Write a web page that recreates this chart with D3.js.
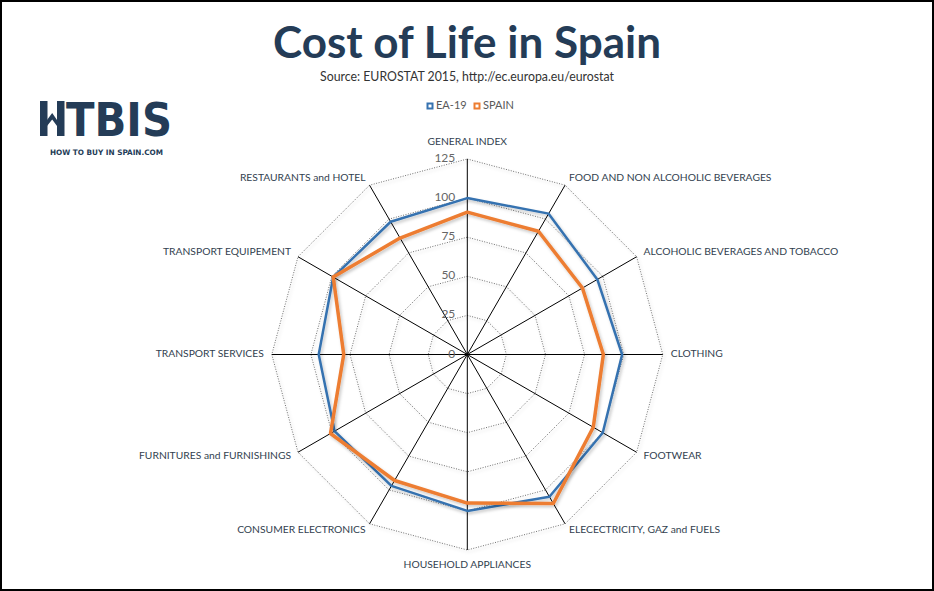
<!DOCTYPE html>
<html>
<head>
<meta charset="utf-8">
<script src="https://cdn.jsdelivr.net/npm/d3@7"></script>
<style>
  body { margin: 0; background: #fff; }
  svg { display: block; }
</style>
</head>
<body>
<svg id="chart" width="934" height="591"></svg>
<script>
// data
const categories = [
  "GENERAL INDEX", "FOOD AND NON ALCOHOLIC BEVERAGES", "ALCOHOLIC BEVERAGES AND TOBACCO",
  "CLOTHING", "FOOTWEAR", "ELECECTRICITY, GAZ and FUELS", "HOUSEHOLD APPLIANCES",
  "CONSUMER ELECTRONICS", "FURNITURES and FURNISHINGS", "TRANSPORT SERVICES",
  "TRANSPORT EQUIPEMENT", "RESTAURANTS and HOTEL"
]
const ea19 = [100, 104, 96, 99, 100, 105, 100, 97, 98, 95, 99, 98]
const spain = [91, 91, 85, 87, 93, 110, 95, 93, 101, 79, 99, 86]
const ticks = [0, 25, 50, 75, 100, 125]
const seriesNames = ["EA-19", "SPAIN"]
const seriesColors = ["#3672b0", "#ed7d31"]

const navy = "#243c57"
const font = "Lato, 'Open Sans', sans-serif"
const cx = 467.3, cy = 354.5, R = 195.5

const svg = d3.select("#chart").style("font-family", font)

svg.append("rect")
  .attr("x", 1).attr("y", 1).attr("width", 932).attr("height", 589)
  .attr("fill", "#fff").attr("stroke", "#000").attr("stroke-width", 2)

const defs = svg.append("defs")
const shadow = defs.append("filter").attr("id", "shadow")
  .attr("x", "-10%").attr("y", "-10%").attr("width", "120%").attr("height", "120%")
shadow.append("feDropShadow")
  .attr("dx", 1.5).attr("dy", 2).attr("stdDeviation", 1.5)
  .attr("flood-color", "#000").attr("flood-opacity", 0.22)

const r = d3.scaleLinear().domain([0, 125]).range([0, R])
const angle = d3.scaleLinear().domain([0, categories.length]).range([0, 2 * Math.PI])

function pt(i, v) {
  const a = angle(i)
  return [cx + r(v) * Math.sin(a), cy - r(v) * Math.cos(a)]
}

// title block
svg.append("text")
  .attr("x", 467).attr("y", 58)
  .attr("text-anchor", "middle")
  .attr("font-size", 43).attr("font-weight", "bold")
  .attr("fill", navy)
  .attr("textLength", 388).attr("lengthAdjust", "spacingAndGlyphs")
  .text("Cost of Life in Spain")

svg.append("text")
  .attr("x", 467).attr("y", 81)
  .attr("text-anchor", "middle")
  .attr("font-size", 12.5).attr("fill", "#333")
  .attr("textLength", 294).attr("lengthAdjust", "spacingAndGlyphs")
  .text("Source: EUROSTAT  2015, http://ec.europa.eu/eurostat")

// logo: the H is drawn with a little house roof, rest is text
const logo = svg.append("g").attr("fill", navy)
logo.append("rect").attr("x", 40).attr("y", 101).attr("width", 7.5).attr("height", 35)
logo.append("rect").attr("x", 57).attr("y", 101).attr("width", 7.5).attr("height", 35)
logo.append("path")
  .attr("d", "M47,120 L52.2,113 L57,120 L57,126 L52.2,119.5 L47,126 Z")
logo.append("text")
  .attr("x", 66).attr("y", 136)
  .style("font-family", "'DejaVu Sans Condensed', 'DejaVu Sans', sans-serif")
  .attr("font-weight", "bold")
  .attr("font-size", 47)
  .attr("textLength", 106).attr("lengthAdjust", "spacingAndGlyphs")
  .text("TBIS")
logo.append("text")
  .attr("x", 50).attr("y", 154.5)
  .style("font-family", "'DejaVu Sans Condensed', 'DejaVu Sans', sans-serif")
  .attr("font-weight", "bold")
  .attr("font-size", 7.5)
  .attr("textLength", 113).attr("lengthAdjust", "spacingAndGlyphs")
  .text("HOW TO BUY IN SPAIN.COM")

// legend
const legend = svg.append("g")
const legX = [427, 474]
seriesNames.forEach((n, k) => {
  legend.append("rect")
    .attr("x", legX[k] + 0.5).attr("y", 103.5).attr("width", 5).attr("height", 5)
    .attr("fill", "#fff").attr("stroke", seriesColors[k]).attr("stroke-width", 2)
  legend.append("text")
    .attr("x", legX[k] + 9).attr("y", 106)
    .attr("dominant-baseline", "middle")
    .attr("font-size", 11).attr("fill", "#595959")
    .text(n)
})

// grid rings
const idx = d3.range(categories.length)
const ringLine = d3.line()
svg.append("g")
  .selectAll("path")
  .data(ticks.filter(t => t > 0))
  .join("path")
  .attr("d", t => ringLine(idx.map(i => pt(i, t))) + "Z")
  .attr("fill", "none")
  .attr("stroke", "#6f6f6f")
  .attr("stroke-width", 1)
  .attr("stroke-dasharray", "1,1.5")
  .attr("filter", "url(#shadow)")

// spokes
svg.append("g")
  .selectAll("line")
  .data(idx)
  .join("line")
  .attr("x1", cx).attr("y1", cy)
  .attr("x2", i => pt(i, 125)[0])
  .attr("y2", i => pt(i, 125)[1])
  .attr("stroke", "#000").attr("stroke-width", 1)

// tick labels
svg.append("g")
  .selectAll("text")
  .data(ticks)
  .join("text")
  .attr("x", cx - 12)
  .attr("y", t => cy - r(t))
  .attr("text-anchor", "end")
  .attr("dominant-baseline", "middle")
  .attr("font-size", 12).attr("fill", "#666")
  .text(d => d)

// series
const seriesLine = d3.line()
;[ea19, spain].forEach((vals, k) => {
  svg.append("path")
    .attr("d", seriesLine(vals.map((v, i) => pt(i, v))) + "Z")
    .attr("fill", "none")
    .attr("stroke", seriesColors[k])
    .attr("stroke-width", k === 0 ? 2.5 : 3.5)
    .attr("stroke-linejoin", "round")
    .attr("filter", "url(#shadow)")
})

// category labels
svg.append("g")
  .selectAll("text")
  .data(categories)
  .join("text")
  .each(function(name, i) {
    const [x, y] = pt(i, 125 * (R + 8) / R)
    const s = Math.round(Math.sin(angle(i)) * 1000) / 1000
    const c = Math.round(Math.cos(angle(i)) * 1000) / 1000
    let anchor = "middle", dy = 0
    if (s > 0) anchor = "start"
    else if (s < 0) anchor = "end"
    else dy = c > 0 ? -9 : 7
    d3.select(this)
      .attr("x", x).attr("y", y + dy)
      .attr("text-anchor", anchor)
      .attr("dominant-baseline", "middle")
      .attr("font-size", 10.3).attr("fill", "#333f50")
      .text(name)
  })
</script>
</body>
</html>
